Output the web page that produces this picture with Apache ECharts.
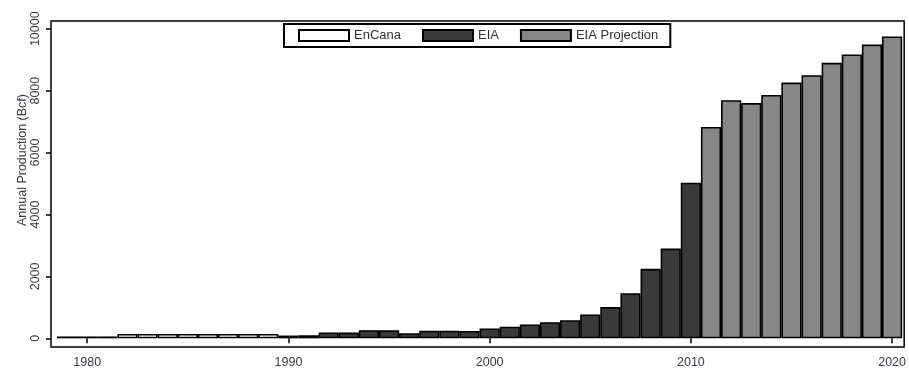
<!DOCTYPE html>
<html>
<head>
<meta charset="utf-8">
<script src="https://cdn.jsdelivr.net/npm/echarts@6/dist/echarts.min.js"></script>
<style>
  html, body { margin: 0; padding: 0; background: #fff; }
  #chart { width: 909px; height: 369px; }
</style>
</head>
<body>
<div id="chart"></div>
<script>
// Annual shale gas production (Bcf): company history, EIA history and EIA projection
const encanaYears  = [1982, 1983, 1984, 1985, 1986, 1987, 1988, 1989];
const encanaValues = [140, 140, 140, 140, 140, 140, 140, 140];

const eiaYears  = [1979, 1980, 1981, 1990, 1991, 1992, 1993, 1994, 1995, 1996, 1997, 1998,
                   1999, 2000, 2001, 2002, 2003, 2004, 2005, 2006, 2007, 2008, 2009, 2010];
const eiaValues = [60, 60, 60, 90, 100, 190, 185, 265, 260, 165, 245, 245,
                   240, 320, 375, 450, 520, 585, 770, 1010, 1460, 2245, 2900, 5025];

const projYears  = [2011, 2012, 2013, 2014, 2015, 2016, 2017, 2018, 2019, 2020];
const projValues = [6830, 7690, 7600, 7860, 8260, 8500, 8900, 9170, 9490, 9750];

const xTicks = [1980, 1990, 2000, 2010, 2020];
const yTicks = [0, 2000, 4000, 6000, 8000, 10000];

const FONT = '"Liberation Sans", Arial, sans-serif';

function pairs(xs, ys) {
  return xs.map((x, i) => [x, ys[i]]);
}

const barCommon = {
  type: 'bar',
  barWidth: 20.2,
  barGap: '-100%',
  animation: false
};

const chart = echarts.init(document.getElementById('chart'), null, { renderer: 'canvas' });

chart.setOption({
  backgroundColor: '#fff',
  animation: false,
  grid: {
    left: 51, right: 1, top: 21, bottom: 22,
    show: true, borderColor: '#000', borderWidth: 1.5, backgroundColor: '#fff'
  },
  legend: {
    top: 24, left: 284,
    padding: [5, 12, 5, 14],
    itemWidth: 50, itemHeight: 11, itemGap: 21,
    icon: 'rect',
    backgroundColor: '#fff', borderColor: '#000', borderWidth: 2,
    textStyle: { fontFamily: FONT, fontSize: 13, color: '#333' },
    data: ['EnCana', 'EIA', 'EIA Projection']
  },
  xAxis: {
    type: 'value',
    min: 1978.2, max: 2020.6,
    axisLine: { show: false },
    splitLine: { show: false },
    axisTick: { show: true, customValues: xTicks, length: 5, lineStyle: { color: '#000', width: 1.5 } },
    axisLabel: {
      customValues: xTicks, margin: 9,
      fontFamily: FONT, fontSize: 12.5, color: '#3a3a44',
      formatter: v => String(v)
    }
  },
  yAxis: {
    type: 'value',
    min: -280, max: 10250,
    axisLine: { show: false },
    splitLine: { show: false },
    axisTick: { show: true, customValues: yTicks, length: 5, lineStyle: { color: '#000', width: 1.5 } },
    axisLabel: {
      customValues: yTicks, rotate: 90, margin: 9,
      fontFamily: FONT, fontSize: 12.5, color: '#3a3a44',
      formatter: v => String(v)
    }
  },
  graphic: [{
    type: 'text',
    x: 23, y: 160,
    rotation: Math.PI / 2,
    style: {
      text: 'Annual Production (Bcf)',
      font: '12.5px ' + FONT,
      fill: '#3a3a44',
      align: 'center',
      verticalAlign: 'middle'
    }
  }],
  series: [
    Object.assign({}, barCommon, {
      name: 'EnCana',
      data: pairs(encanaYears, encanaValues),
      itemStyle: { color: '#ffffff', borderColor: '#000', borderWidth: 1.6 }
    }),
    Object.assign({}, barCommon, {
      name: 'EIA',
      data: pairs(eiaYears, eiaValues),
      itemStyle: { color: '#3a3a3a', borderColor: '#000', borderWidth: 1.6 }
    }),
    Object.assign({}, barCommon, {
      name: 'EIA Projection',
      data: pairs(projYears, projValues),
      itemStyle: { color: '#878787', borderColor: '#000', borderWidth: 1.6 }
    })
  ]
});
</script>
</body>
</html>
